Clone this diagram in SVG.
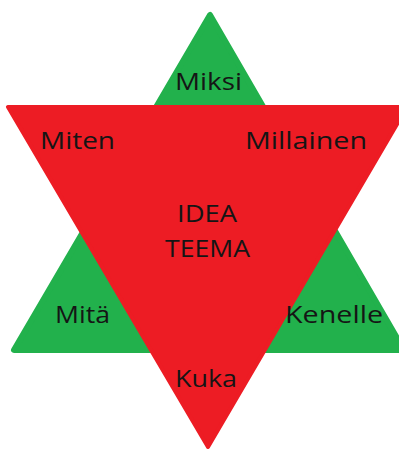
<svg xmlns="http://www.w3.org/2000/svg" width="399" height="450" viewBox="0 0 399 450">
  <style>
    .lbl { font-family: "Open Sans", "Liberation Sans", sans-serif; font-size: 24px; fill: #151515; }
  </style>
  <rect width="399" height="450" fill="#ffffff"/>
  <g id="green-triangle">
    <polygon points="210,15 14,350 404,350" fill="#22b14c" stroke="#22b14c" stroke-width="6" stroke-linejoin="round"/>
  </g>
  <g id="red-triangle">
    <polygon points="8,107 407,107 208,447" fill="#ed1c24" stroke="#ed1c24" stroke-width="4" stroke-linejoin="round"/>
  </g>
  <g id="miksi"><text class="lbl" x="175" y="90" textLength="67" lengthAdjust="spacingAndGlyphs">Miksi</text></g>
  <g id="miten"><text class="lbl" x="40" y="149" textLength="75" lengthAdjust="spacingAndGlyphs">Miten</text></g>
  <g id="millainen"><text class="lbl" x="245" y="149" textLength="122" lengthAdjust="spacingAndGlyphs">Millainen</text></g>
  <g id="idea-teema">
    <text class="lbl" x="177" y="222" textLength="60" lengthAdjust="spacingAndGlyphs">IDEA</text>
    <text class="lbl" x="165" y="257" textLength="85" lengthAdjust="spacingAndGlyphs">TEEMA</text>
  </g>
  <g id="mita"><text class="lbl" x="55" y="323" textLength="55" lengthAdjust="spacingAndGlyphs">Mitä</text></g>
  <g id="kenelle"><text class="lbl" x="285" y="323" textLength="98" lengthAdjust="spacingAndGlyphs">Kenelle</text></g>
  <g id="kuka"><text class="lbl" x="175" y="387" textLength="62" lengthAdjust="spacingAndGlyphs">Kuka</text></g>
  <g id="connectors"></g>
</svg>
